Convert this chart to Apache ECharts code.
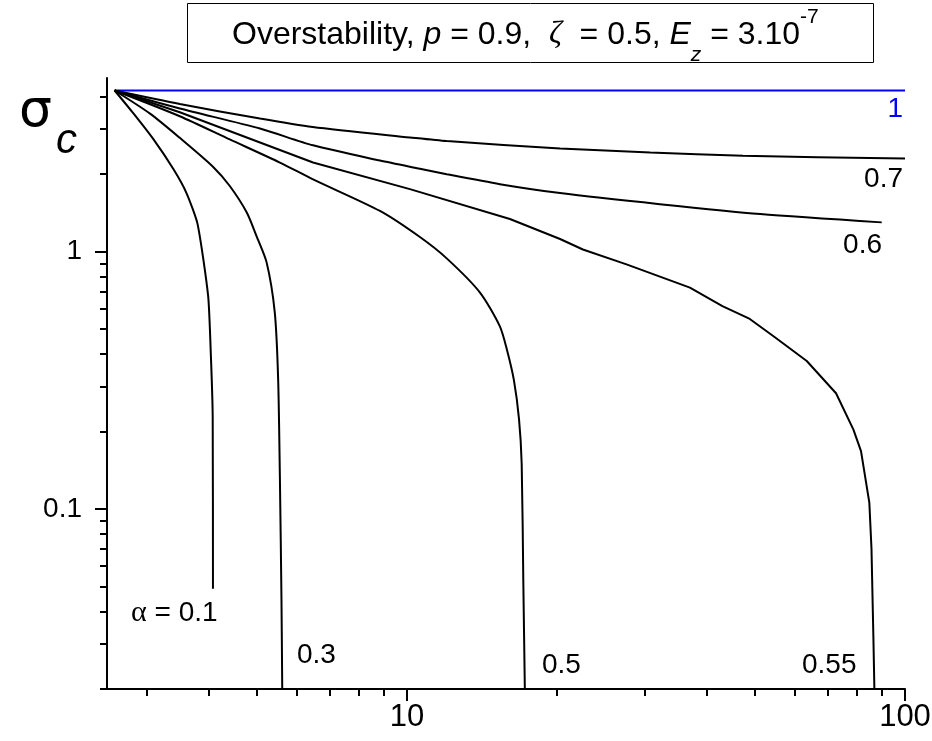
<!DOCTYPE html>
<html><head><meta charset="utf-8">
<script src="https://cdn.jsdelivr.net/npm/echarts@6/dist/echarts.min.js"></script>
<style>html,body{margin:0;padding:0;background:#fff;}#c{width:932px;height:741px;}</style>
</head><body><div id="c"></div>
<script>
// ---- axis ticks / labels ----
const xMajorTicks = [10, 100];
const xMinorTicks = [3, 4, 5, 6, 7, 8, 9, 20, 30, 40, 50, 60, 70, 80, 90];
const yMajorTicks = [0.1, 1];
const yMinorTicks = [0.02, 0.03, 0.04, 0.05, 0.06, 0.07, 0.08, 0.09, 0.2, 0.3, 0.4, 0.5, 0.6, 0.7, 0.8, 0.9, 2, 3, 4];

// ---- curves (x, sigma_c), one per alpha ----
const alpha1 = [[2.59, 4.23], [100, 4.23]];
const alpha07 = [[2.59, 4.23], [3.50, 3.75], [5.07, 3.29], [6.47, 3.05], [10.14, 2.78], [12.03, 2.69], [20.3, 2.52], [30.8, 2.43], [47.3, 2.36], [100, 2.30]];
const alpha06 = [[2.59, 4.23], [3.50, 3.60], [5.07, 3.01], [6.48, 2.59], [8.83, 2.26], [10.62, 2.10], [12.02, 2.00], [15.37, 1.83], [20.3, 1.69], [32.2, 1.53], [51.2, 1.40], [89.8, 1.30]];
const alpha055 = [[2.59, 4.23], [3.50, 3.48], [6.48, 2.22], [10.14, 1.75], [16.1, 1.34], [20.3, 1.12], [22.56, 1.02], [27.6, 0.893], [37.0, 0.725], [43.0, 0.615], [48.8, 0.548], [54.8, 0.465], [63.5, 0.376], [72.7, 0.282], [78.75, 0.204], [81.6, 0.168], [84.8, 0.106], [85.65, 0.070], [86.4, 0.032], [86.8, 0.02]];
const alpha05 = [[2.59, 4.23], [3.50, 3.36], [4.41, 2.73], [5.56, 2.22], [6.48, 1.91], [8.83, 1.44], [10.62, 1.14], [12.02, 0.942], [14.02, 0.694], [15.37, 0.513], [15.87, 0.418], [16.40, 0.317], [16.79, 0.224], [17.0, 0.150], [17.13, 0.052], [17.25, 0.02]];
const alpha03 = [[2.59, 4.23], [3.05, 3.44], [3.50, 2.77], [4.08, 2.14], [4.41, 1.80], [4.77, 1.42], [4.99, 1.15], [5.23, 0.907], [5.43, 0.580], [5.515, 0.319], [5.56, 0.131], [5.60, 0.045], [5.62, 0.02]];
const alpha01 = [[2.59, 4.23], [2.82, 3.46], [3.10, 2.73], [3.40, 2.09], [3.61, 1.69], [3.80, 1.28], [3.99, 0.673], [4.04, 0.40], [4.075, 0.23], [4.08, 0.049]];

const FONT = "'Liberation Sans', Arial, sans-serif";
const SERIF = "'Liberation Serif', 'Times New Roman', serif";

function lineSeries(name, data, color, smooth) {
  return {
    name: name, type: 'line', data: data, xAxisIndex: 0, yAxisIndex: 0,
    showSymbol: false, symbol: 'none', smooth: smooth || false,
    lineStyle: { color: color || '#000', width: 2 },
    emphasis: { disabled: true }, silent: true
  };
}

const gridRect = { left: 107, right: 27, top: 78, bottom: 52, outerBoundsMode: 'none', containLabel: false };

const chart = echarts.init(document.getElementById('c'), null, { renderer: 'canvas' });
chart.setOption({
  animation: false,
  backgroundColor: '#fff',
  title: {
    text: 'Overstability, {i|p} = 0.9,  {g|ζ}  = 0.5, {i|E}{sub|z} = 3.10{sup|-7}',
    left: 232, top: 3, padding: 0,
    textStyle: {
      fontFamily: FONT, fontSize: 32, fontWeight: 'normal', color: '#000', lineHeight: 64,
      rich: {
        i: { fontFamily: FONT, fontStyle: 'italic', fontSize: 32, lineHeight: 64, color: '#000' },
        g: { fontFamily: SERIF, fontStyle: 'italic', fontSize: 32, lineHeight: 64, color: '#000' },
        sub: { fontFamily: FONT, fontStyle: 'italic', fontSize: 21, lineHeight: 30, verticalAlign: 'bottom', padding: [0, 0, 1, 0], color: '#000' },
        sup: { fontFamily: FONT, fontSize: 21, lineHeight: 30, verticalAlign: 'top', padding: [4, 0, 0, 0], color: '#000' }
      }
    }
  },
  grid: [Object.assign({}, gridRect), Object.assign({}, gridRect)],
  xAxis: [
    {
      type: 'log', gridIndex: 0, min: 2.5, max: 100, position: 'bottom',
      axisLine: { show: true, lineStyle: { color: '#000', width: 2 } },
      axisTick: { show: true, customValues: xMajorTicks, length: 12, lineStyle: { color: '#000', width: 2 } },
      axisLabel: { show: true, customValues: xMajorTicks, margin: 13, fontSize: 31, fontFamily: FONT, color: '#000',
        formatter: function (v) { return String(Math.round(v)); } },
      splitLine: { show: false }, minorTick: { show: false }
    },
    {
      type: 'log', gridIndex: 1, min: 2.5, max: 100, position: 'bottom',
      axisLine: { show: false },
      axisTick: { show: true, customValues: xMinorTicks, length: 7, lineStyle: { color: '#000', width: 2 } },
      axisLabel: { show: false }, splitLine: { show: false }
    }
  ],
  yAxis: [
    {
      type: 'log', gridIndex: 0, min: 0.02, max: 4.73, position: 'left',
      axisLine: { show: true, lineStyle: { color: '#000', width: 2 } },
      axisTick: { show: true, customValues: yMajorTicks, length: 12, lineStyle: { color: '#000', width: 2 } },
      axisLabel: { show: true, customValues: yMajorTicks, margin: 25, fontSize: 28, fontFamily: FONT, color: '#000',
        formatter: function (v) { return v >= 1 ? '1' : '0.1'; } },
      splitLine: { show: false }, minorTick: { show: false }
    },
    {
      type: 'log', gridIndex: 1, min: 0.02, max: 4.73, position: 'left',
      axisLine: { show: false },
      axisTick: { show: true, customValues: yMinorTicks, length: 7, lineStyle: { color: '#000', width: 2 } },
      axisLabel: { show: false }, splitLine: { show: false }
    }
  ],
  graphic: [
    { type: 'rect', silent: true, shape: { x: 187.5, y: 3.5, width: 686, height: 59 }, style: { fill: 'none', stroke: '#000', lineWidth: 1 } },
    { type: 'text', silent: true, x: 19, y: 112, style: { text: 'σ', font: "52px 'DejaVu Sans', sans-serif", fill: '#000', verticalAlign: 'middle', align: 'left' } },
    { type: 'text', silent: true, x: 56, y: 141, style: { text: 'c', font: "italic 42px " + FONT, fill: '#000', verticalAlign: 'middle', align: 'left' } },
    { type: 'text', silent: true, x: 903, y: 109, style: { text: '1', font: "28px " + FONT, fill: '#0000ff', verticalAlign: 'middle', align: 'right' } },
    { type: 'text', silent: true, x: 903, y: 179, style: { text: '0.7', font: "28px " + FONT, fill: '#000', verticalAlign: 'middle', align: 'right' } },
    { type: 'text', silent: true, x: 882, y: 245, style: { text: '0.6', font: "28px " + FONT, fill: '#000', verticalAlign: 'middle', align: 'right' } },
    { type: 'text', silent: true, x: 131, y: 613, style: { text: '{g|α} = 0.1', font: "28px " + FONT, fill: '#000', verticalAlign: 'middle', align: 'left',
        rich: { g: { fontFamily: SERIF, fontSize: 30, fill: '#000' } } } },
    { type: 'text', silent: true, x: 297, y: 655, style: { text: '0.3', font: "28px " + FONT, fill: '#000', verticalAlign: 'middle', align: 'left' } },
    { type: 'text', silent: true, x: 542, y: 665, style: { text: '0.5', font: "28px " + FONT, fill: '#000', verticalAlign: 'middle', align: 'left' } },
    { type: 'text', silent: true, x: 802, y: 665, style: { text: '0.55', font: "28px " + FONT, fill: '#000', verticalAlign: 'middle', align: 'left' } }
  ],
  series: [
    lineSeries('α = 1', alpha1, '#0000ff'),
    lineSeries('α = 0.7', alpha07, null, 0.25),
    lineSeries('α = 0.6', alpha06, null, 0.25),
    lineSeries('α = 0.55', alpha055),
    lineSeries('α = 0.5', alpha05, null, 0.25),
    lineSeries('α = 0.3', alpha03, null, 0.25),
    lineSeries('α = 0.1', alpha01, null, 0.2)
  ]
});
</script>
</body></html>
